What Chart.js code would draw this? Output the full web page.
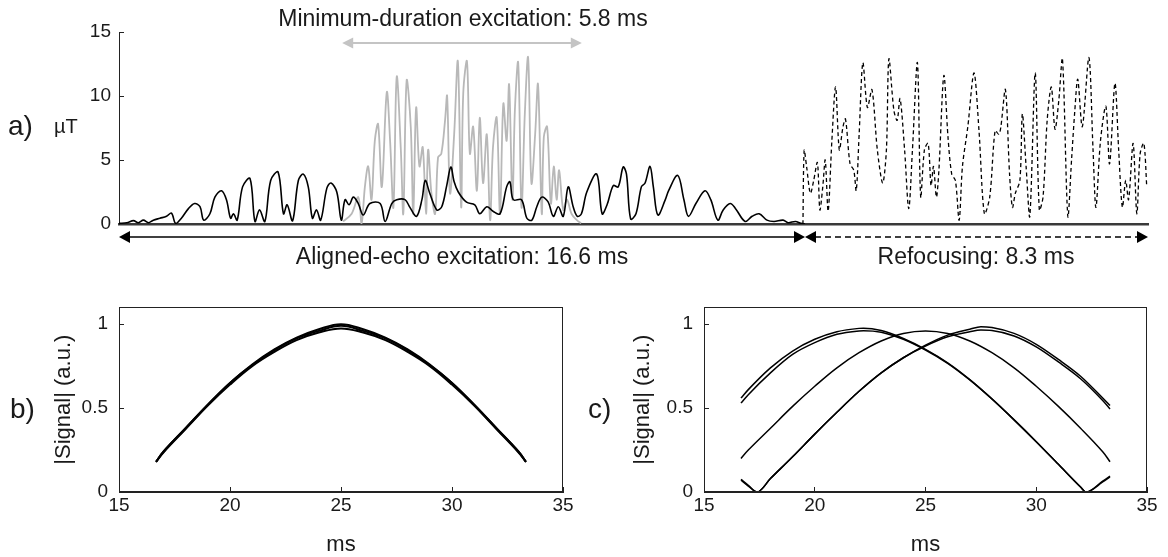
<!DOCTYPE html>
<html><head><meta charset="utf-8">
<script src="https://cdn.jsdelivr.net/npm/chart.js@4.4.1/dist/chart.umd.min.js"></script>
<style>
html,body{margin:0;padding:0;background:#fff;}
body{width:1168px;height:557px;position:relative;overflow:hidden;font-family:"Liberation Sans",Arial,sans-serif;color:#1a1a1a;}
canvas{position:absolute;}
.t{position:absolute;line-height:1;white-space:nowrap;}
.c{transform:translateX(-50%);}
</style></head><body>
<canvas id="ca" width="1168" height="280" style="left:0;top:0"></canvas>
<canvas id="cb" width="584" height="277" style="left:0;top:280px"></canvas>
<canvas id="cc" width="584" height="277" style="left:584px;top:280px"></canvas>
<div class="t c" style="left:463px;top:7px;font-size:23px">Minimum-duration excitation: 5.8 ms</div>
<div class="t c" style="left:462px;top:245px;font-size:23px">Aligned-echo excitation: 16.6 ms</div>
<div class="t c" style="left:976px;top:245px;font-size:23px">Refocusing: 8.3 ms</div>
<div class="t" style="left:8px;top:112px;font-size:28px">a)</div>
<div class="t" style="left:54px;top:116px;font-size:20px">µT</div>
<div class="t" style="left:10px;top:395px;font-size:28px">b)</div>
<div class="t" style="left:588px;top:395px;font-size:28px">c)</div>
<script>
// ---------- panel a: RF pulses (µT vs ms) ----------
const alignedT = [0.00,0.19,0.35,0.47,0.59,0.71,0.83,0.99,1.15,1.27,1.37,1.51,1.68,1.83,1.96,2.05,2.20,2.32,2.48,2.60,2.70,2.77,2.86,2.99,3.17,3.29,3.40,3.53,3.67,3.85,3.98,4.07,4.20,4.34,4.46,4.58,4.68,4.78,4.88,5.03,5.13,5.27,5.38,5.47,5.57,5.67,5.79,5.91,6.07,6.32,6.44,6.60,6.72,6.92,7.04,7.20,7.33,7.41,7.52,7.69,7.81,7.93,8.03,8.11,8.21,8.41,8.61,8.73,8.90,9.05,9.22,9.38,9.46,9.54,9.74,9.87,9.99,10.11,10.23,10.38,10.51,10.63,10.75,10.87,10.99,11.09,11.19,11.32,11.56,11.69,11.81,11.96,12.08,12.20,12.28,12.38,12.51,12.64,12.73,12.85,12.93,13.04,13.22,13.30,13.52,13.67,13.78,13.96,14.18,14.32,14.49,14.62,14.79,14.92,15.15,15.32,15.49,15.68,15.85,16.07,16.19,16.37,16.50,16.60];
const alignedB1 = [0.05,0.10,0.26,0.10,0.30,0.10,0.30,0.45,0.60,0.85,0.05,0.45,1.20,1.60,1.35,0.30,0.80,2.10,2.60,1.90,0.45,0.80,0.30,2.90,3.55,0.20,1.10,0.20,3.40,4.05,0.80,1.50,0.25,3.40,3.90,2.90,0.45,1.10,0.30,2.80,3.20,2.50,0.30,1.90,1.50,2.10,1.60,0.70,1.60,1.60,0.20,1.60,1.90,1.90,1.30,0.60,1.90,3.40,2.40,1.10,1.35,3.00,4.45,3.30,2.50,1.70,1.50,0.80,1.35,1.00,0.80,2.90,3.30,1.90,1.90,0.45,0.30,1.35,2.10,1.75,0.60,1.35,0.60,2.90,1.35,0.60,0.80,2.50,3.90,0.80,1.50,3.00,2.90,4.45,3.90,0.40,0.80,2.90,3.20,4.50,2.90,0.70,1.90,2.60,3.80,1.90,0.60,1.60,2.60,1.90,0.30,1.10,1.60,1.20,0.20,0.60,0.80,0.30,0.20,0.30,0.10,0.20,0.05,0.00];

const minDurT = [5.42,5.63,5.79,5.87,5.95,6.03,6.11,6.19,6.27,6.36,6.48,6.56,6.64,6.72,6.82,6.88,6.96,7.06,7.12,7.19,7.27,7.35,7.43,7.48,7.56,7.65,7.72,7.80,7.89,7.94,8.01,8.11,8.20,8.28,8.33,8.42,8.49,8.57,8.66,8.73,8.81,8.90,8.98,9.05,9.14,9.22,9.30,9.38,9.44,9.52,9.58,9.66,9.74,9.82,9.90,9.98,10.07,10.14,10.23,10.28,10.36,10.45,10.52,10.59,10.65,10.75,10.84,10.95,11.08,11.18];
const minDurB1 = [0.20,0.80,2.10,0.05,2.90,4.50,1.90,6.50,7.80,2.90,10.30,6.50,1.30,11.50,5.80,0.80,11.20,7.60,0.80,9.10,4.50,6.00,0.80,5.80,2.40,0.80,5.20,5.50,8.10,10.00,2.40,7.00,12.70,1.30,10.20,12.70,5.50,7.60,2.60,8.30,3.20,7.00,0.30,6.00,8.30,0.80,9.40,6.50,10.90,1.90,8.90,12.60,1.30,8.60,13.00,3.20,7.00,10.90,0.80,6.80,7.60,1.60,4.50,1.90,4.20,1.10,1.90,0.80,0.30,0.05];

const refocT = [16.55,16.58,16.64,16.73,16.81,16.90,16.96,17.03,17.09,17.16,17.25,17.34,17.43,17.52,17.58,17.69,17.78,17.84,17.91,18.00,18.11,18.22,18.35,18.48,18.57,18.63,18.75,18.83,18.90,19.01,19.11,19.20,19.32,19.40,19.49,19.58,19.65,19.71,19.78,19.84,19.96,20.06,20.15,20.24,20.33,20.41,20.54,20.69,20.81,20.94,21.07,21.20,21.29,21.34,21.45,21.55,21.62,21.69,21.80,21.86,21.95,22.04,22.17,22.27,22.36,22.46,22.56,22.65,22.74,22.83,22.96,23.05,23.13,23.20,23.31,23.47,23.57,23.64,23.75,23.88,23.97,24.10,24.19,24.28,24.36,24.43,24.54,24.63,24.71,24.80,24.87];
const refocB1 = [0.00,5.75,4.45,2.40,3.40,4.80,1.10,2.90,5.00,1.00,6.50,10.70,5.80,7.60,8.20,4.70,4.20,2.60,7.00,12.60,9.10,10.50,5.80,3.20,5.80,12.90,8.90,8.10,9.80,5.80,1.20,5.80,12.60,2.10,5.80,6.30,3.00,4.50,2.10,4.20,11.60,6.80,3.90,3.40,0.30,4.50,7.60,11.80,7.30,0.80,2.10,7.30,7.00,7.60,10.50,3.90,1.30,2.40,3.40,8.60,4.50,0.60,11.80,1.10,2.10,8.10,10.70,7.40,9.60,12.90,0.60,5.00,8.90,11.30,7.60,13.00,5.80,1.30,6.50,9.20,4.70,11.00,5.80,1.30,3.40,1.90,6.30,0.80,5.50,6.30,2.90];

const yTicksA = [0, 5, 10, 15];
const spanMinDur = [5.4, 11.2];   // 5.8 ms
const spanAligned = [0, 16.6];    // 16.6 ms
const spanRefoc = [16.6, 24.9];   // 8.3 ms

// ---------- panel b ----------
const timeB = [16.67,17,18,19,20,21,22,23,24,25,26,27,28,29,30,31,32,33,33.33];
const sigB1 = [0.18,0.24,0.38,0.52,0.65,0.76,0.85,0.92,0.97,1.00,0.97,0.92,0.85,0.76,0.65,0.52,0.38,0.24,0.18];
const sigB2 = [0.18,0.24,0.38,0.52,0.65,0.755,0.845,0.915,0.96,0.99,0.96,0.915,0.845,0.755,0.65,0.52,0.38,0.24,0.18];
const sigB3 = [0.18,0.235,0.375,0.515,0.64,0.75,0.835,0.905,0.95,0.975,0.95,0.905,0.835,0.75,0.64,0.515,0.375,0.235,0.18];

// ---------- panel c ----------
const timeCA = [16.67,17,18,19,20,21,22,22.2,23,24,25,26,27,28,29,30,31,32,32.25,33,33.33];
const sigCA1 = [0.56,0.61,0.74,0.84,0.91,0.955,0.975,0.976,0.962,0.915,0.85,0.77,0.67,0.555,0.43,0.30,0.165,0.03,0.0,0.06,0.09];
const sigCA2 = [0.53,0.58,0.71,0.82,0.89,0.94,0.96,0.961,0.952,0.91,0.846,0.767,0.668,0.554,0.43,0.30,0.165,0.03,0.0,0.065,0.095];
const timeCB = [16.67,17,17.4,18,19,20,21,22,23,24,25,26,27,27.5,28,29,30,31,32,33,33.33];
const sigCB1 = [0.07,0.035,0.0,0.08,0.21,0.345,0.475,0.60,0.71,0.80,0.875,0.935,0.97,0.985,0.98,0.945,0.88,0.79,0.69,0.56,0.515];
const sigCB2 = [0.075,0.04,0.0,0.08,0.21,0.345,0.475,0.60,0.71,0.80,0.87,0.925,0.955,0.965,0.962,0.93,0.865,0.775,0.675,0.545,0.495];
const timeCC = [16.67,17,18,19,20,21,22,23,24,25,26,27,28,29,30,31,32,33,33.33];
const sigCC = [0.20,0.25,0.38,0.51,0.63,0.74,0.83,0.90,0.945,0.96,0.945,0.90,0.83,0.74,0.63,0.51,0.38,0.24,0.18];

const xTicksBC = [15, 20, 25, 30, 35];
const yTicksBC = [0, 0.5, 1];

// ---------- helpers ----------
const pts = (t, v) => t.map((x, i) => ({x, y: v[i]}));
const FONT = "'Liberation Sans', Arial, sans-serif";
Chart.defaults.font.family = FONT;
Chart.defaults.color = '#1a1a1a';

function arrow(ctx, x1, x2, y, color, dash, lw, hl, hw) {
  ctx.save();
  ctx.strokeStyle = color; ctx.fillStyle = color; ctx.lineWidth = lw;
  ctx.setLineDash(dash);
  ctx.beginPath(); ctx.moveTo(x1 + hl - 1, y); ctx.lineTo(x2 - hl + 1, y); ctx.stroke();
  ctx.setLineDash([]);
  ctx.beginPath(); ctx.moveTo(x1, y); ctx.lineTo(x1 + hl, y - hw); ctx.lineTo(x1 + hl, y + hw); ctx.closePath(); ctx.fill();
  ctx.beginPath(); ctx.moveTo(x2, y); ctx.lineTo(x2 - hl, y - hw); ctx.lineTo(x2 - hl, y + hw); ctx.closePath(); ctx.fill();
  ctx.restore();
}

const arrowsPlugin = {
  id: 'arrows',
  afterDraw(chart) {
    const xs = chart.scales.x, ctx = chart.ctx, a = chart.chartArea;
    arrow(ctx, xs.getPixelForValue(spanMinDur[0]), xs.getPixelForValue(spanMinDur[1]), 43, '#c4c4c4', [], 2, 11, 5.5);
    const yb = a.bottom + 13;
    arrow(ctx, xs.getPixelForValue(spanAligned[0]), xs.getPixelForValue(spanAligned[1]), yb, '#000', [], 1.5, 11, 6);
    arrow(ctx, xs.getPixelForValue(spanRefoc[0]), xs.getPixelForValue(spanRefoc[1]), yb, '#000', [6, 4], 1.5, 11, 6);
  }
};

const boxPlugin = {
  id: 'box',
  afterDraw(chart) {
    const a = chart.chartArea, ctx = chart.ctx;
    ctx.save(); ctx.strokeStyle = '#222'; ctx.lineWidth = 1;
    ctx.strokeRect(Math.round(a.left) + 0.5, Math.round(a.top) + 0.5, Math.round(a.right - a.left) - 1, Math.round(a.bottom - a.top) - 1);
    ctx.restore();
  }
};

const fmt = v => String(v);

// ---------- chart a ----------
new Chart(document.getElementById('ca'), {
  type: 'line',
  data: { datasets: [
    { data: pts(minDurT, minDurB1), borderColor: '#b8b8b8', borderWidth: 1.8, pointRadius: 0, tension: 0.35, order: 3 },
    { data: pts(alignedT, alignedB1), borderColor: '#000', borderWidth: 1.6, pointRadius: 0, tension: 0.35, order: 1 },
    { data: pts(refocT, refocB1), borderColor: '#000', borderWidth: 1.3, borderDash: [4, 3], pointRadius: 0, tension: 0.3, order: 2 }
  ]},
  options: {
    responsive: false, animation: false, events: [],
    layout: { padding: { top: 32, right: 20, bottom: 0, left: 0 } },
    plugins: { legend: { display: false }, tooltip: { enabled: false } },
    scales: {
      x: { type: 'linear', min: 0, max: 24.9, ticks: { display: false }, grid: { display: false },
           border: { display: true, color: '#3a3a3a', width: 2.5 }, afterFit(s) { s.height = 56; } },
      y: { min: 0, max: 15,
           afterBuildTicks(s) { s.ticks = yTicksA.map(v => ({ value: v })); },
           ticks: { padding: 13, font: { size: 19 }, callback: fmt },
           grid: { drawOnChartArea: false, tickLength: -5, color: '#222' },
           border: { color: '#222', width: 1 }, afterFit(s) { s.width = 119; } }
    }
  },
  plugins: [arrowsPlugin]
});

// ---------- charts b, c ----------
function sigChart(id, datasets, yw, titlePad) {
  return new Chart(document.getElementById(id), {
    type: 'line',
    data: { datasets: datasets.map(d => ({ data: d.d, borderColor: '#000', borderWidth: d.w, pointRadius: 0,
      tension: 0.4, cubicInterpolationMode: d.m ? 'monotone' : 'default' })) },
    options: {
      responsive: false, animation: false, events: [],
      layout: { padding: { top: 19, right: 21, bottom: 0, left: 0 } },
      plugins: { legend: { display: false }, tooltip: { enabled: false } },
      scales: {
        x: { type: 'linear', min: 15, max: 35,
             afterBuildTicks(s) { s.ticks = xTicksBC.map(v => ({ value: v })); },
             ticks: { padding: 7, font: { size: 19 }, callback: fmt },
             grid: { drawOnChartArea: false, tickLength: -5, color: '#222' },
             border: { color: '#222', width: 1 },
             title: { display: true, text: 'ms', font: { size: 22, lineHeight: 1.1 }, padding: { top: 0, bottom: 0 } },
             afterFit(s) { s.height = 65; } },
        y: { min: 0, max: 1.1,
             afterBuildTicks(s) { s.ticks = yTicksBC.map(v => ({ value: v })); },
             ticks: { padding: 16, font: { size: 19 }, callback: fmt },
             grid: { drawOnChartArea: false, tickLength: -5, color: '#222' },
             border: { color: '#222', width: 1 },
             title: { display: true, text: '|Signal| (a.u.)', font: { size: 22 }, padding: { top: titlePad, bottom: 0 } },
             afterFit(s) { s.width = yw; } }
      }
    },
    plugins: [boxPlugin]
  });
}

sigChart('cb', [
  { d: pts(timeB, sigB1), w: 2 },
  { d: pts(timeB, sigB2), w: 2 },
  { d: pts(timeB, sigB3), w: 2 }
], 119, 51);

sigChart('cc', [
  { d: pts(timeCA, sigCA1), w: 1.5, m: true },
  { d: pts(timeCA, sigCA2), w: 1.5, m: true },
  { d: pts(timeCB, sigCB1), w: 1.5, m: true },
  { d: pts(timeCB, sigCB2), w: 1.5, m: true },
  { d: pts(timeCC, sigCC), w: 1.5 }
], 120, 46);
</script>
</body></html>
